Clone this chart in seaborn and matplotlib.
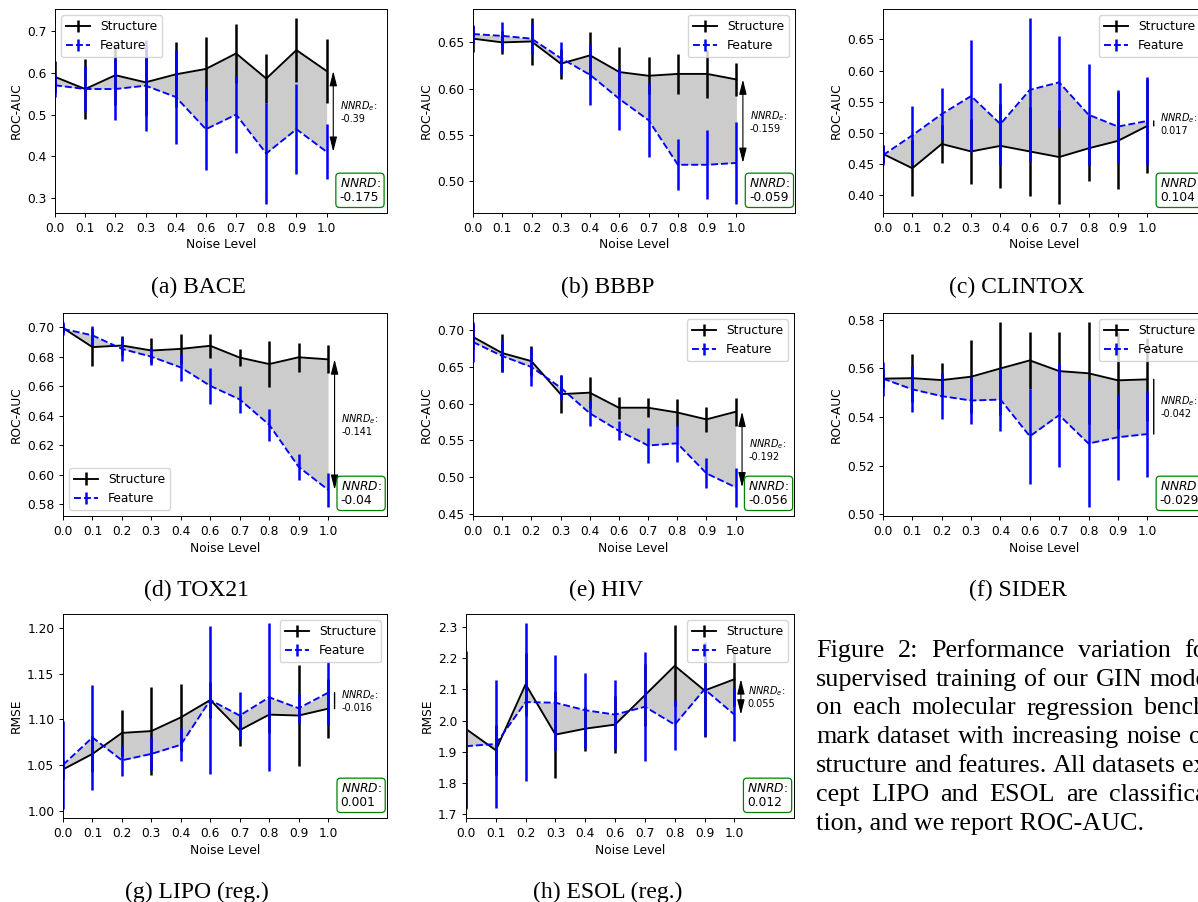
import numpy as np
import matplotlib
matplotlib.use("Agg")
import matplotlib.pyplot as plt
import seaborn as sns
from matplotlib.container import ErrorbarContainer
from matplotlib.ticker import MultipleLocator

# ---------------- data ----------------
noise_levels = ["0.0", "0.1", "0.2", "0.3", "0.4", "0.6", "0.7", "0.8", "0.9", "1.0"]

bace_struct = [0.590, 0.561, 0.594, 0.577, 0.596, 0.609, 0.646, 0.586, 0.654, 0.604]
bace_struct_err = [0.039, 0.071, 0.070, 0.080, 0.077, 0.077, 0.070, 0.059, 0.076, 0.077]
bace_feat = [0.570, 0.561, 0.561, 0.569, 0.542, 0.465, 0.500, 0.407, 0.465, 0.411]
bace_feat_err = [0.027, 0.054, 0.073, 0.108, 0.113, 0.098, 0.091, 0.120, 0.107, 0.066]

bbbp_struct = [0.654, 0.650, 0.651, 0.627, 0.636, 0.618, 0.614, 0.616, 0.616, 0.610]
bbbp_struct_err = [0.014, 0.012, 0.025, 0.016, 0.025, 0.027, 0.020, 0.022, 0.026, 0.018]
bbbp_feat = [0.659, 0.657, 0.654, 0.633, 0.615, 0.589, 0.566, 0.518, 0.518, 0.520]
bbbp_feat_err = [0.010, 0.015, 0.017, 0.017, 0.033, 0.033, 0.040, 0.0275, 0.037, 0.044]

clintox_struct = [0.466, 0.443, 0.482, 0.470, 0.479, 0.470, 0.461, 0.475, 0.487, 0.511]
clintox_struct_err = [0.015, 0.045, 0.031, 0.052, 0.068, 0.072, 0.075, 0.052, 0.078, 0.075]
clintox_feat = [0.464, 0.496, 0.530, 0.559, 0.514, 0.569, 0.581, 0.529, 0.510, 0.519]
clintox_feat_err = [0.016, 0.047, 0.042, 0.090, 0.066, 0.115, 0.074, 0.081, 0.059, 0.070]

tox21_struct = [0.6995, 0.6865, 0.6876, 0.6842, 0.6853, 0.6874, 0.6794, 0.6750, 0.6796, 0.6782]
tox21_struct_err = [0.003, 0.013, 0.0067, 0.0085, 0.010, 0.0082, 0.006, 0.0157, 0.0097, 0.0096]
tox21_feat = [0.6989, 0.6945, 0.6853, 0.6800, 0.6727, 0.6602, 0.6510, 0.6338, 0.6052, 0.5896]
tox21_feat_err = [0.0045, 0.0066, 0.0083, 0.0056, 0.009, 0.012, 0.009, 0.011, 0.009, 0.0115]

hiv_struct = [0.691, 0.669, 0.658, 0.613, 0.615, 0.5945, 0.5945, 0.588, 0.5786, 0.589]
hiv_struct_err = [0.018, 0.026, 0.020, 0.026, 0.021, 0.015, 0.013, 0.018, 0.017, 0.019]
hiv_feat = [0.684, 0.665, 0.650, 0.622, 0.587, 0.563, 0.543, 0.546, 0.505, 0.486]
hiv_feat_err = [0.027, 0.022, 0.026, 0.017, 0.018, 0.013, 0.024, 0.025, 0.0204, 0.0265]

sider_struct = [0.5558, 0.5560, 0.5552, 0.5566, 0.5600, 0.5633, 0.5589, 0.5580, 0.5551, 0.5555]
sider_struct_err = [0.004, 0.010, 0.007, 0.015, 0.019, 0.0116, 0.016, 0.021, 0.020, 0.017]
sider_feat = [0.5558, 0.5514, 0.5486, 0.5468, 0.5472, 0.5321, 0.5408, 0.5291, 0.5317, 0.5330]
sider_feat_err = [0.007, 0.0095, 0.0094, 0.0097, 0.0128, 0.0196, 0.0215, 0.026, 0.0176, 0.0177]

lipo_struct = [1.045, 1.062, 1.085, 1.087, 1.102, 1.121, 1.088, 1.105, 1.104, 1.1115]
lipo_struct_err = [0.010, 0.020, 0.025, 0.048, 0.037, 0.020, 0.017, 0.020, 0.055, 0.032]
lipo_feat = [1.050, 1.080, 1.055, 1.062, 1.072, 1.121, 1.104, 1.124, 1.112, 1.129]
lipo_feat_err = [0.048, 0.057, 0.017, 0.018, 0.018, 0.081, 0.026, 0.081, 0.016, 0.035]

esol_struct = [1.973, 1.905, 2.116, 1.955, 1.974, 1.987, 2.081, 2.175, 2.096, 2.132]
esol_struct_err = [0.25, 0.08, 0.10, 0.14, 0.07, 0.09, 0.10, 0.13, 0.15, 0.086]
esol_feat = [1.918, 1.925, 2.059, 2.057, 2.033, 2.019, 2.044, 1.987, 2.100, 2.019]
esol_feat_err = [0.20, 0.206, 0.252, 0.152, 0.12, 0.11, 0.174, 0.08, 0.15, 0.084]

panel_names = ["(a) BACE", "(b) BBBP", "(c) CLINTOX", "(d) TOX21", "(e) HIV",
               "(f) SIDER", "(g) LIPO (reg.)", "(h) ESOL (reg.)"]
ylabels = ["ROC-AUC"] * 6 + ["RMSE"] * 2
nnrd_e_vals = ["-0.39", "-0.159", "0.017", "-0.141", "-0.192", "-0.042", "-0.016", "0.055"]
nnrd_vals = ["-0.175", "-0.059", "0.104", "-0.04", "-0.056", "-0.029", "0.001", "0.012"]

caption_lines = [
    "Figure 2: Performance variation for",
    "supervised training of our GIN model",
    "on each molecular regression bench-",
    "mark dataset with increasing noise on",
    "structure and features. All datasets ex-",
    "cept LIPO and ESOL are classifica-",
    "tion, and we report ROC-AUC.",
]

# ---------------- style ----------------
plt.rcParams.update({
    "font.family": ["DejaVu Sans"],
    "font.size": 8.8,
    "axes.linewidth": 0.7,
    "xtick.major.size": 3.1,
    "ytick.major.size": 3.1,
    "xtick.major.width": 0.7,
    "ytick.major.width": 0.7,
    "xtick.major.pad": 3.1,
    "ytick.major.pad": 3.1,
    "axes.labelpad": 2.8,
    "legend.fontsize": 8.8,
})

W, H = 1198, 902
fig = plt.figure(figsize=(W / 100, H / 100), dpi=100)
fig.patch.set_facecolor("white")


def px_rect(l, r, t, b):
    return [l / W, 1 - b / H, (r - l) / W, (b - t) / H]


# layout: (left, right, top, bottom) in pixels
rects = [
    (55, 387, 9, 213), (473, 795, 9, 213), (883, 1206, 9, 213),
    (63, 387, 313, 516), (473, 794, 313, 516), (883, 1206, 313, 516),
    (63, 387, 614, 818), (466, 794, 614, 818),
]
sub_pos = [(198, 293), (608, 293), (1017, 293), (197, 596), (606, 596), (1018, 596),
           (197, 898), (608, 898)]
leg_locs = ["upper left", "upper right", "upper right", "lower left",
            "upper right", "upper right", "upper right", "upper right"]
ystep = [0.1, 0.05, 0.05, 0.02, 0.05, 0.02, 0.05, 0.1]
heads = [True, True, False, True, True, False, False, True]

datasets = [
    (bace_struct, bace_struct_err, bace_feat, bace_feat_err),
    (bbbp_struct, bbbp_struct_err, bbbp_feat, bbbp_feat_err),
    (clintox_struct, clintox_struct_err, clintox_feat, clintox_feat_err),
    (tox21_struct, tox21_struct_err, tox21_feat, tox21_feat_err),
    (hiv_struct, hiv_struct_err, hiv_feat, hiv_feat_err),
    (sider_struct, sider_struct_err, sider_feat, sider_feat_err),
    (lipo_struct, lipo_struct_err, lipo_feat, lipo_feat_err),
    (esol_struct, esol_struct_err, esol_feat, esol_feat_err),
]

x = np.arange(len(noise_levels))

for i, (s, se, f, fe) in enumerate(datasets):
    ax = fig.add_axes(px_rect(*rects[i]))
    s = np.asarray(s); f = np.asarray(f)

    ax.fill_between(x, s, f, color="#cccccc", linewidth=0, zorder=1)

    eb_s = ax.errorbar(x, s, yerr=se, fmt="none", ecolor="black", elinewidth=1.8, zorder=2)
    sns.lineplot(x=x, y=s, ax=ax, color="black", linewidth=1.35, zorder=2.1,
                 estimator=None, sort=False)
    line_s = ax.lines[-1]
    eb_f = ax.errorbar(x, f, yerr=fe, fmt="none", ecolor="blue", elinewidth=1.8, zorder=2.2)
    sns.lineplot(x=x, y=f, ax=ax, color="blue", linewidth=1.35, zorder=2.3,
                 estimator=None, sort=False)
    line_f = ax.lines[-1]
    line_f.set_linestyle((0, (3.7, 1.6)))

    ax.set_xlim(0, 11)
    ax.set_xticks(x)
    ax.set_xticklabels(noise_levels)
    ax.yaxis.set_major_locator(MultipleLocator(ystep[i]))
    ax.set_xlabel("Noise Level")
    ax.set_ylabel(ylabels[i])

    # legend with errorbar-style handles
    h_s = ErrorbarContainer((line_s, (), eb_s.lines[2]), has_xerr=False, has_yerr=True,
                            label="Structure")
    h_f = ErrorbarContainer((line_f, (), eb_f.lines[2]), has_xerr=False, has_yerr=True,
                            label="Feature")
    ax.legend(handles=[h_s, h_f], labels=["Structure", "Feature"], loc=leg_locs[i])

    # NNRD_e arrow and text
    xa = 9.22
    if heads[i]:
        props = dict(arrowstyle="<|-|>,head_length=1.0,head_width=0.25", color="black",
                     lw=0.8, shrinkA=0, shrinkB=0, mutation_scale=9)
    else:
        props = dict(arrowstyle="-", color="black", lw=1.0, shrinkA=0, shrinkB=0)
    ax.annotate("", xy=(xa, f[-1]), xytext=(xa, s[-1]), arrowprops=props)
    ax.text(9.45, (s[-1] + f[-1]) / 2, "$NNRD_e$:\n" + nnrd_e_vals[i], fontsize=7,
            ha="left", va="center", linespacing=1.1)

    # NNRD box
    ax.text(0.857, 0.045, "$NNRD$:\n" + nnrd_vals[i], transform=ax.transAxes,
            ha="left", va="bottom", fontsize=8.8, linespacing=1.1,
            bbox=dict(boxstyle="round,pad=0.3", facecolor="white", edgecolor="green",
                      linewidth=0.9))

    # sub-caption
    fig.text(sub_pos[i][0] / W, 1 - sub_pos[i][1] / H, panel_names[i],
             family="Liberation Serif", fontsize=17, ha="center", va="baseline")

# ---------------- caption: justified text block ----------------
serif = dict(family="Liberation Serif", fontsize=18.8, va="baseline", ha="left")
base = [657, 686, 714.5, 743, 772, 801, 830]
col_left, col_right = 816, 1215
renderer = fig.canvas.get_renderer()
for li, line in enumerate(caption_lines):
    yb = 1 - base[li] / H
    if li == len(caption_lines) - 1:
        fig.text(col_left / W, yb, line, **serif)
        continue
    words = line.split()
    texts = [fig.text(0, yb, w, **serif) for w in words]
    widths = [t.get_window_extent(renderer).width for t in texts]
    gap = (col_right - col_left - sum(widths)) / (len(words) - 1)
    xcur = col_left
    for t, w in zip(texts, widths):
        t.set_x(xcur / W)
        xcur += w + gap

fig.savefig("out.png", dpi=100, facecolor="white")
